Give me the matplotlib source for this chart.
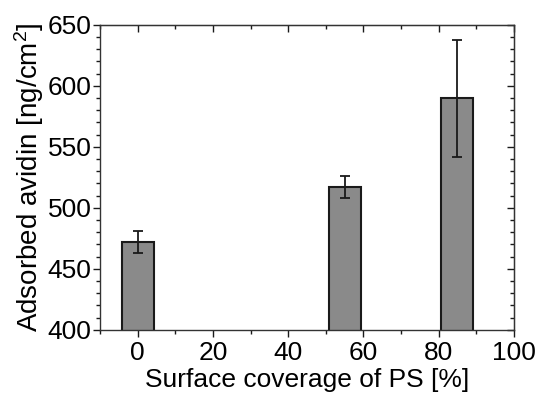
import matplotlib
matplotlib.use("Agg")
import matplotlib.pyplot as plt
from matplotlib.ticker import MultipleLocator

plt.rcParams['font.family'] = ['Liberation Sans', 'DejaVu Sans']
plt.rcParams['mathtext.fontset'] = 'custom'
plt.rcParams['mathtext.rm'] = 'Liberation Sans'
plt.rcParams['mathtext.it'] = 'Liberation Sans:italic'

coverage = [0, 55, 85]
adsorbed = [472, 517, 590]
errors = [9, 9, 48]

fig = plt.figure(figsize=(5.38, 3.95), dpi=100)
ax = fig.add_axes([0.186, 0.165, 0.769, 0.772])

ax.bar(coverage, adsorbed, width=8.5, color='#8a8a8a', edgecolor='#1a1a1a', linewidth=1.5,
       yerr=errors, capsize=3.5, error_kw=dict(ecolor='#1a1a1a', elinewidth=1.3, capthick=1.3))

ax.set_xlim(-10, 100)
ax.set_ylim(400, 650)
ax.xaxis.set_major_locator(MultipleLocator(20))
ax.xaxis.set_minor_locator(MultipleLocator(10))
ax.yaxis.set_major_locator(MultipleLocator(50))
ax.yaxis.set_minor_locator(MultipleLocator(10))
ax.tick_params(which='both', direction='out', labelsize=19, width=1, colors='#1a1a1a', labelcolor='black')
ax.tick_params(which='major', length=5)
ax.tick_params(axis='x', which='major', pad=3)
ax.tick_params(axis='y', which='major', pad=1)
ax.tick_params(which='minor', length=3)

for s in ax.spines.values():
    s.set_linewidth(1)
    s.set_color('#333333')

top = ax.secondary_xaxis('top')
top.xaxis.set_major_locator(MultipleLocator(20))
top.xaxis.set_minor_locator(MultipleLocator(10))
top.tick_params(which='both', direction='in', labeltop=False, width=1, colors='#1a1a1a')
top.tick_params(which='major', length=5)
top.tick_params(which='minor', length=3)

right = ax.secondary_yaxis('right')
right.yaxis.set_major_locator(MultipleLocator(50))
right.yaxis.set_minor_locator(MultipleLocator(10))
right.tick_params(which='both', direction='in', labelright=False, width=1, colors='#1a1a1a')
right.tick_params(which='major', length=5)
right.tick_params(which='minor', length=3)

ax.set_xlabel('Surface coverage of PS [%]', fontsize=19, labelpad=2)
ax.set_ylabel('Adsorbed avidin [ng/cm$^2$]', fontsize=20, labelpad=1)

fig.savefig('out.png', dpi=100)
